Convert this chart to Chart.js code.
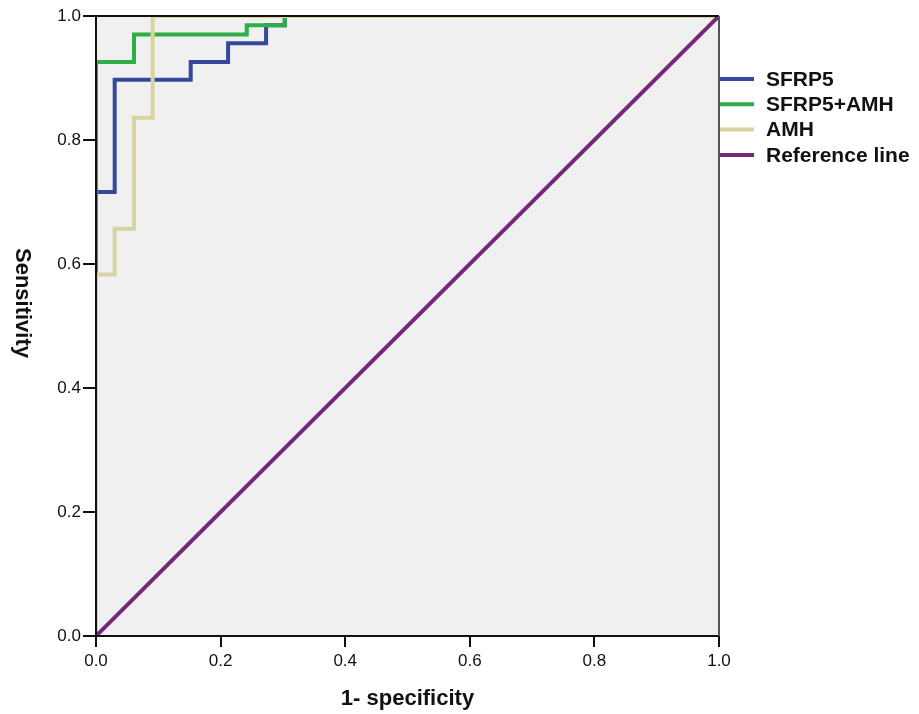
<!DOCTYPE html>
<html><head><meta charset="utf-8">
<script src="https://cdn.jsdelivr.net/npm/chart.js@4/dist/chart.umd.min.js"></script>
<style>html,body{margin:0;padding:0;background:#fff;overflow:hidden}</style>
</head><body>
<canvas id="c" width="919" height="714" style="display:block;width:919px;height:714px"></canvas>
<script>
const seriesNames = ['SFRP5','SFRP5+AMH','AMH','Reference line'];
const sfrp5FPR = [0,0,0.030,0.030,0.152,0.152,0.212,0.212,0.273,0.273,0.303,0.303,1];
const sfrp5TPR = [0,0.716,0.716,0.897,0.897,0.926,0.926,0.956,0.956,0.985,0.985,1,1];
const comboFPR = [0,0,0.061,0.061,0.242,0.242,0.303,0.303,1];
const comboTPR = [0,0.926,0.926,0.970,0.970,0.985,0.985,1,1];
const amhFPR = [0,0,0.030,0.030,0.061,0.061,0.091,0.091,1];
const amhTPR = [0,0.583,0.583,0.657,0.657,0.836,0.836,1,1];
const refFPR = [0,1];
const refTPR = [0,1];
const tickValues = [0,0.2,0.4,0.6,0.8,1.0];
const xTitle = '1- specificity';
const yTitle = 'Sensitivity';
const colors = ['#34499b','#2fae47','#d7d4a2','#75277a'];

const FONT = "'Liberation Sans', Arial, sans-serif";
const pts = (xs, ys) => xs.map((x, i) => ({x: x, y: ys[i]}));
const allX = [sfrp5FPR, comboFPR, amhFPR, refFPR];
const allY = [sfrp5TPR, comboTPR, amhTPR, refTPR];

const datasets = seriesNames.map((name, i) => ({
  label: name,
  data: pts(allX[i], allY[i]),
  showLine: true,
  borderColor: colors[i],
  backgroundColor: colors[i],
  borderWidth: 4,
  pointRadius: 0,
  fill: false,
  tension: 0,
  order: seriesNames.length - i
}));

const bgPlugin = {
  id: 'bg',
  beforeDraw(chart) {
    const {ctx, chartArea: a} = chart;
    ctx.save();
    ctx.fillStyle = '#ffffff';
    ctx.fillRect(0, 0, chart.width, chart.height);
    ctx.fillStyle = '#f0f0f0';
    ctx.fillRect(a.left, a.top, a.right - a.left, a.bottom - a.top);
    ctx.restore();
  },
  afterDatasetsDraw(chart) {
    const {ctx, chartArea: a} = chart;
    ctx.save();
    ctx.lineWidth = 2;
    ctx.strokeStyle = '#111';
    ctx.beginPath();
    ctx.moveTo(a.left, a.bottom); ctx.lineTo(a.left, a.top); ctx.lineTo(a.right, a.top);
    ctx.moveTo(a.left, a.bottom); ctx.lineTo(a.right, a.bottom);
    ctx.stroke();
    ctx.strokeStyle = '#555';
    ctx.beginPath();
    ctx.moveTo(a.right, a.top); ctx.lineTo(a.right, a.bottom);
    ctx.stroke();
    ctx.restore();
  },
  afterDraw(chart) {
    const {ctx, chartArea: a} = chart;
    ctx.save();
    // y axis title, rotated to read top-to-bottom
    ctx.translate(22, (a.top + a.bottom) / 2 - 23);
    ctx.rotate(Math.PI / 2);
    ctx.fillStyle = '#111';
    ctx.font = 'bold 22px ' + FONT;
    ctx.textAlign = 'center';
    ctx.textBaseline = 'middle';
    ctx.fillText(yTitle, 0, 0);
    ctx.restore();
    // legend
    ctx.save();
    ctx.font = 'bold 21px ' + FONT;
    ctx.textBaseline = 'middle';
    ctx.textAlign = 'left';
    chart.data.datasets.forEach((ds, i) => {
      const y = a.top + 63 + i * 25.3;
      ctx.strokeStyle = ds.borderColor;
      ctx.lineWidth = 4;
      ctx.beginPath();
      ctx.moveTo(a.right + 1, y); ctx.lineTo(a.right + 35, y);
      ctx.stroke();
      ctx.fillStyle = '#111';
      ctx.fillText(ds.label, a.right + 47, y + 1);
    });
    ctx.restore();
  }
};

const axisCommon = {
  type: 'linear', min: 0, max: 1,
  afterBuildTicks: s => { s.ticks = tickValues.map(v => ({value: v})); },
  grid: { drawOnChartArea: false, drawTicks: true, color: '#111', lineWidth: 2 },
  border: { display: true, color: '#111', width: 2 },
};

new Chart(document.getElementById('c'), {
  type: 'scatter',
  data: { datasets },
  options: {
    responsive: false,
    animation: false,
    layout: { padding: { left: 0, right: 200, top: 16, bottom: 0 } },
    plugins: { legend: { display: false }, tooltip: { enabled: false } },
    scales: {
      x: Object.assign({}, axisCommon, {
        position: 'bottom',
        grid: Object.assign({}, axisCommon.grid, { tickLength: 11 }),
        ticks: { color: '#111', font: { family: FONT, size: 17 }, padding: 4, maxRotation: 0,
                 callback: v => Number(v).toFixed(1) },
        title: { display: true, text: xTitle, color: '#111', font: { family: FONT, size: 22, weight: 'bold' }, padding: { top: 0, bottom: 2 } },
        afterFit: s => { s.height = 78; }
      }),
      y: Object.assign({}, axisCommon, {
        position: 'left',
        grid: Object.assign({}, axisCommon.grid, { tickLength: 13 }),
        ticks: { color: '#111', font: { family: FONT, size: 17 }, padding: 2,
                 callback: v => Number(v).toFixed(1) },
        title: { display: false },
        afterFit: s => { s.width = 96; }
      })
    }
  },
  plugins: [bgPlugin]
});
</script>
</body></html>
